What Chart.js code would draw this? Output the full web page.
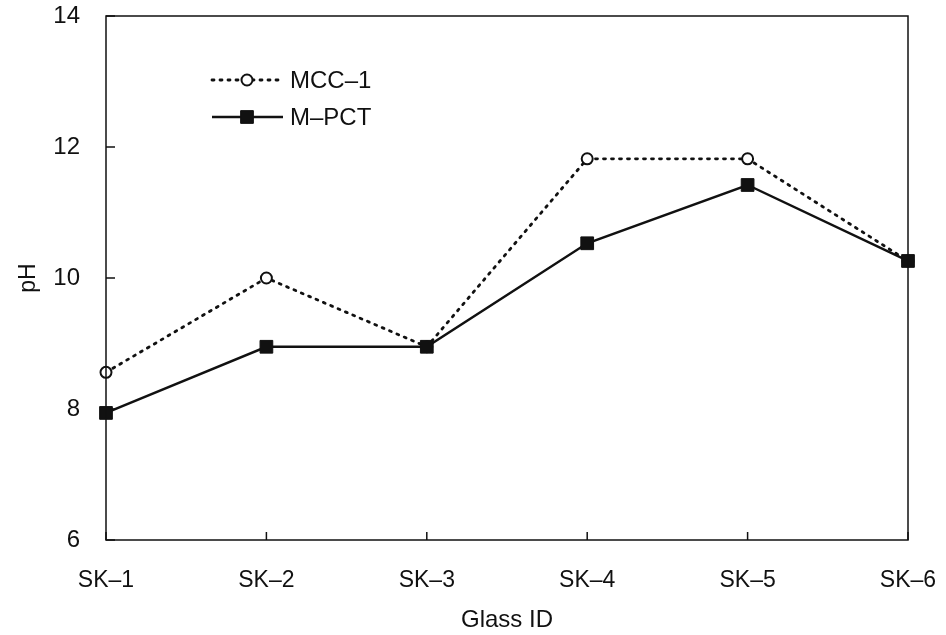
<!DOCTYPE html>
<html>
<head>
<meta charset="utf-8">
<script src="https://cdn.jsdelivr.net/npm/chart.js@4/dist/chart.umd.min.js"></script>
<style>
  html, body { margin: 0; padding: 0; background: #fff; }
  #wrap { width: 946px; height: 635px; }
</style>
</head>
<body>
<div id="wrap"><canvas id="chartPH" width="946" height="635"></canvas></div>
<script>
// Datos
const glassIds = ["SK–1", "SK–2", "SK–3", "SK–4", "SK–5", "SK–6"];
const mcc1 = [8.56, 10.0, 8.95, 11.82, 11.82, 10.26];
const mpct = [7.94, 8.95, 8.95, 10.53, 11.42, 10.26];
const yTicks = [6, 8, 10, 12, 14];

const ink = "#111";
const fontName = "'Liberation Sans', Arial, sans-serif";

// Marco, marcas hacia dentro y leyenda
const framePlugin = {
  id: "frame",
  afterDraw(chart) {
    const { ctx, chartArea: a, scales } = chart;
    ctx.save();
    ctx.strokeStyle = ink;
    ctx.lineWidth = 1.5;
    ctx.strokeRect(a.left, a.top, a.right - a.left, a.bottom - a.top);
    ctx.beginPath();
    for (const v of yTicks) {
      const y = scales.y.getPixelForValue(v);
      ctx.moveTo(a.left, y);
      ctx.lineTo(a.left + 9, y);
    }
    glassIds.forEach((_, i) => {
      const x = scales.x.getPixelForValue(i);
      ctx.moveTo(x, a.bottom);
      ctx.lineTo(x, a.bottom - 8);
    });
    ctx.stroke();

    // leyenda
    const rows = [
      { ds: chart.data.datasets[0], y: 80 },
      { ds: chart.data.datasets[1], y: 117 },
    ];
    for (const r of rows) {
      ctx.beginPath();
      ctx.strokeStyle = ink;
      ctx.lineWidth = r.ds.borderWidth;
      ctx.setLineDash(r.ds.borderDash || []);
      ctx.lineCap = r.ds.borderCapStyle || "butt";
      ctx.moveTo(212, r.y);
      ctx.lineTo(283, r.y);
      ctx.stroke();
      ctx.setLineDash([]);
      ctx.fillStyle = r.ds.pointBackgroundColor;
      ctx.lineWidth = r.ds.pointBorderWidth;
      Chart.helpers.drawPoint(ctx, {
        pointStyle: r.ds.pointStyle,
        radius: r.ds.pointRadius,
        borderWidth: r.ds.pointBorderWidth,
      }, 247, r.y);
      ctx.fillStyle = ink;
      ctx.font = "24px " + fontName;
      ctx.textBaseline = "middle";
      ctx.fillText(r.ds.label, 290, r.y + 1);
    }
    ctx.restore();
  },
};

const ctxPH = document.getElementById("chartPH").getContext("2d");
const phChart = new Chart(ctxPH, {
  type: "line",
  data: {
    labels: glassIds,
    datasets: [
      {
        label: "MCC–1",
        data: mcc1,
        borderColor: ink,
        borderWidth: 2.8,
        borderDash: [2, 6],
        borderCapStyle: "round",
        pointStyle: "circle",
        pointRadius: 5.5,
        pointBorderWidth: 2,
        pointBackgroundColor: "#fff",
        pointBorderColor: ink,
        order: 1,
      },
      {
        label: "M–PCT",
        data: mpct,
        borderColor: ink,
        borderWidth: 2.5,
        pointStyle: "rect",
        pointRadius: 9,
        pointBorderWidth: 1,
        pointBackgroundColor: ink,
        pointBorderColor: ink,
        order: 0,
      },
    ],
  },
  options: {
    responsive: false,
    animation: false,
    layout: { padding: { top: 16, right: 38, bottom: 0, left: 0 } },
    plugins: { legend: { display: false }, tooltip: { enabled: false } },
    scales: {
      x: {
        offset: false,
        grid: { display: false, drawTicks: false },
        border: { display: false },
        ticks: { color: ink, font: { family: fontName, size: 23 }, padding: 27, maxRotation: 0 },
        title: { display: true, text: "Glass ID", color: ink, font: { family: fontName, size: 24 }, padding: { top: 0, bottom: 0 } },
        afterFit(scale) {
          scale.height = 95;
          scale.paddingLeft = 0;
          scale.paddingRight = 0;
        },
      },
      y: {
        min: 6,
        max: 14,
        grid: { display: false, drawTicks: false },
        border: { display: false },
        ticks: { stepSize: 2, color: ink, font: { family: fontName, size: 24 }, padding: 26 },
        title: { display: true, text: "pH", color: ink, font: { family: fontName, size: 23 }, padding: { top: 15, bottom: 0 } },
        afterFit(scale) {
          scale.width = 106;
          scale.paddingTop = 0;
          scale.paddingBottom = 0;
        },
      },
    },
  },
  plugins: [framePlugin],
});
</script>
</body>
</html>
